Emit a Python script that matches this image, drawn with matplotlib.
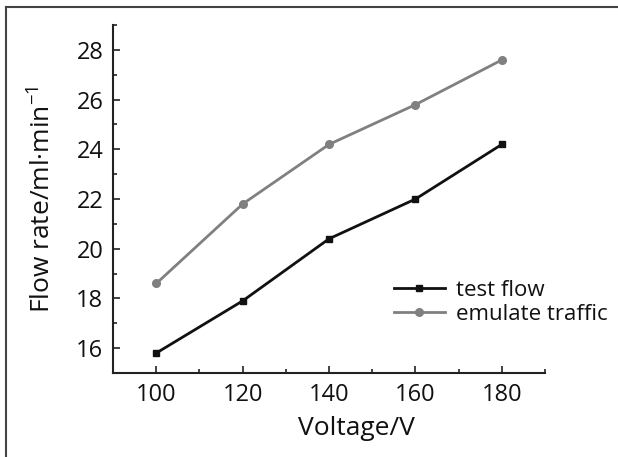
import matplotlib.pyplot as plt
from matplotlib.ticker import MultipleLocator
from matplotlib.lines import Line2D

plt.rcParams['font.family'] = ['Open Sans', 'DejaVu Sans']
plt.rcParams['mathtext.fontset'] = 'custom'
plt.rcParams['mathtext.rm'] = 'Open Sans'

voltage = [100, 120, 140, 160, 180]
test_flow = [15.8, 17.9, 20.4, 22.0, 24.2]
emulate_traffic = [18.6, 21.8, 24.2, 25.8, 27.6]

fig = plt.figure(figsize=(6.18, 4.57), dpi=100)
ax = fig.add_axes([0.183, 0.184, 0.699, 0.761])

ax.plot(voltage, test_flow, color='#111111', lw=2, marker='s', ms=5, label='test flow')
ax.plot(voltage, emulate_traffic, color='#808080', lw=2, marker='o', ms=5.5, label='emulate traffic')

ax.set_xlim(90, 190)
ax.set_ylim(15, 29)
ax.xaxis.set_major_locator(MultipleLocator(20))
ax.xaxis.set_minor_locator(MultipleLocator(10))
ax.yaxis.set_major_locator(MultipleLocator(2))
ax.yaxis.set_minor_locator(MultipleLocator(1))
ax.tick_params(which='both', direction='in', width=1.2, color='#222222', labelcolor='#111111',
               labelsize=17, pad=7)
ax.tick_params(which='major', length=5)
ax.tick_params(which='minor', length=3)
for s in ['top', 'right']:
    ax.spines[s].set_visible(False)
for s in ['left', 'bottom']:
    ax.spines[s].set_linewidth(1.5)
    ax.spines[s].set_color('#222222')

ax.set_xlabel('Voltage/V', fontsize=19, labelpad=7, color='#111111', x=0.5625)
ax.set_ylabel('Flow rate/ml·min$^{-1}$', fontsize=19, labelpad=15, color='#111111')

leg = ax.legend(loc='lower right', bbox_to_anchor=(1.145, 0.138), frameon=False, fontsize=16,
                handlelength=2.3, handletextpad=0.5, labelspacing=0.15,
                borderpad=0, borderaxespad=0)
for t in leg.get_texts():
    t.set_color('#111111')

# frame round the picture
fig.add_artist(Line2D([5.5 / 618, 5.5 / 618], [0, 1 - 7 / 457], color='#444444', lw=1.5))
fig.add_artist(Line2D([5.5 / 618, 1], [1 - 7 / 457, 1 - 7 / 457], color='#444444', lw=1.5))

fig.savefig('out.png', dpi=100)
